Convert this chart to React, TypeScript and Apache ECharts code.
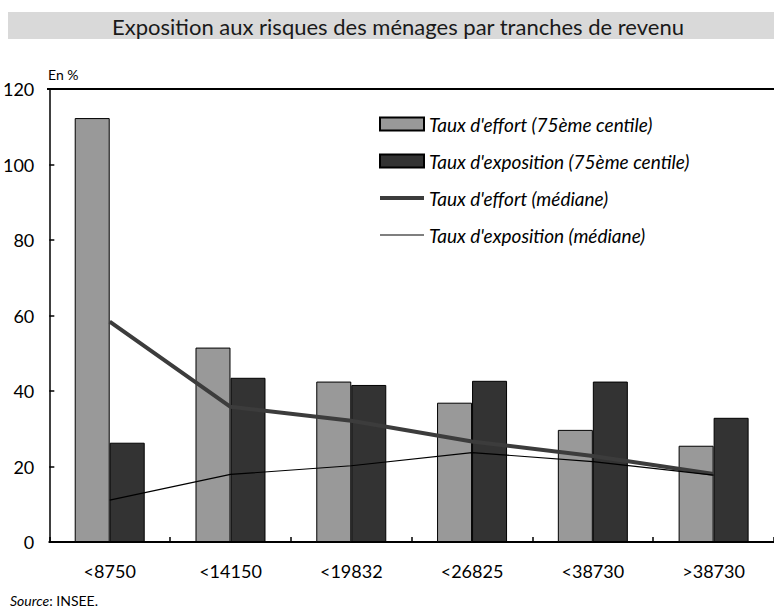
import React, { useEffect, useRef } from "react";
import * as echarts from "echarts";

const categories = ["<8750", "<14150", "<19832", "<26825", "<38730", ">38730"];
const effort75 = [112.3, 51.5, 42.5, 36.9, 29.7, 25.5];
const exposition75 = [26.3, 43.5, 41.6, 42.7, 42.5, 32.9];
const effortMed = [58.4, 35.8, 32.1, 26.6, 22.8, 18.0];
const expositionMed = [11.1, 17.9, 20.2, 23.7, 21.3, 17.7];
const seriesNames = [
  "Taux d'effort (75ème centile)",
  "Taux d'exposition (75ème centile)",
  "Taux d'effort (médiane)",
  "Taux d'exposition (médiane)",
];

const FONT = "Lato";

export default function App() {
  const ref = useRef<HTMLDivElement>(null);
  useEffect(() => {
    if (!ref.current) return;
    const chart = echarts.init(ref.current, null, { renderer: "svg" });
    chart.setOption({
      animation: false,
      backgroundColor: "#ffffff",
      textStyle: { fontFamily: FONT, color: "#000" },
      grid: { left: 47, right: -5, top: 89, bottom: 68, containLabel: false },
      legend: {
        orient: "vertical",
        left: 373,
        top: 108,
        itemWidth: 44,
        itemHeight: 13,
        itemGap: 15,
        textStyle: {
          fontFamily: FONT,
          fontStyle: "italic",
          fontSize: 19,
          lineHeight: 22,
          color: "#000",
        },
        data: [
          { name: seriesNames[0], icon: "rect" },
          { name: seriesNames[1], icon: "rect" },
          {
            name: seriesNames[2],
            itemStyle: { opacity: 0 },
            lineStyle: { width: 4, color: "#3c3c3c", opacity: 1 },
          },
          {
            name: seriesNames[3],
            itemStyle: { opacity: 0 },
            lineStyle: { width: 1.2, color: "#000", opacity: 1 },
          },
        ],
      },
      xAxis: {
        type: "category",
        data: categories,
        axisLine: { show: true, lineStyle: { color: "#000", width: 2 } },
        axisTick: { show: true, inside: true, length: 5, lineStyle: { color: "#000", width: 1.5 } },
        axisLabel: { fontFamily: FONT, fontSize: 18, color: "#000", margin: 20 },
      },
      yAxis: {
        type: "value",
        min: 0,
        max: 120,
        interval: 20,
        axisLine: { show: true, lineStyle: { color: "#000", width: 1.5 } },
        axisTick: { show: true, inside: true, length: 5, lineStyle: { color: "#000", width: 1.5 } },
        axisLabel: { fontFamily: FONT, fontSize: 18, color: "#000", margin: 15 },
        splitLine: { show: false },
      },
      graphic: [
        {
          type: "rect",
          shape: { x: 8, y: 12, width: 766, height: 27 },
          style: { fill: "#d9d9d9" },
          silent: true,
        },
        {
          type: "text",
          x: 398,
          y: 26,
          style: {
            text: "Exposition aux risques des ménages par tranches de revenu",
            fontFamily: FONT,
            fontSize: 22,
            fill: "#1a1a1a",
            align: "center",
            verticalAlign: "middle",
          },
        },
        {
          type: "text",
          x: 48,
          y: 74,
          style: {
            text: "En %",
            fontFamily: FONT,
            fontSize: 14,
            fill: "#000",
            verticalAlign: "middle",
          },
        },
        {
          type: "line",
          shape: { x1: 47, y1: 89, x2: 774, y2: 89 },
          style: { stroke: "#000", lineWidth: 2 },
        },
        {
          type: "text",
          x: 10,
          y: 600,
          style: {
            text: "{i|Source}: INSEE.",
            fontFamily: FONT,
            fontSize: 14,
            fill: "#000",
            verticalAlign: "middle",
            rich: {
              i: { fontFamily: FONT, fontSize: 14, fontStyle: "italic", fill: "#000" },
            },
          },
        },
      ],
      series: [
        {
          name: seriesNames[0],
          type: "bar",
          data: effort75,
          barWidth: 35,
          barGap: "0%",
          itemStyle: { color: "#999999", borderColor: "#000", borderWidth: 1 },
        },
        {
          name: seriesNames[1],
          type: "bar",
          data: exposition75,
          barWidth: 35,
          barGap: "0%",
          itemStyle: { color: "#333333", borderColor: "#000", borderWidth: 1 },
        },
        {
          name: seriesNames[2],
          type: "line",
          data: effortMed,
          symbol: "none",
          z: 5,
          lineStyle: { color: "#3c3c3c", width: 4 },
          itemStyle: { color: "#3c3c3c" },
        },
        {
          name: seriesNames[3],
          type: "line",
          data: expositionMed,
          symbol: "none",
          z: 5,
          lineStyle: { color: "#000", width: 1.2 },
          itemStyle: { color: "#000" },
        },
      ],
    });
    return () => chart.dispose();
  }, []);
  return <div ref={ref} style={{ width: 774, height: 610, position: "absolute", left: 0, top: 0 }} />;
}
